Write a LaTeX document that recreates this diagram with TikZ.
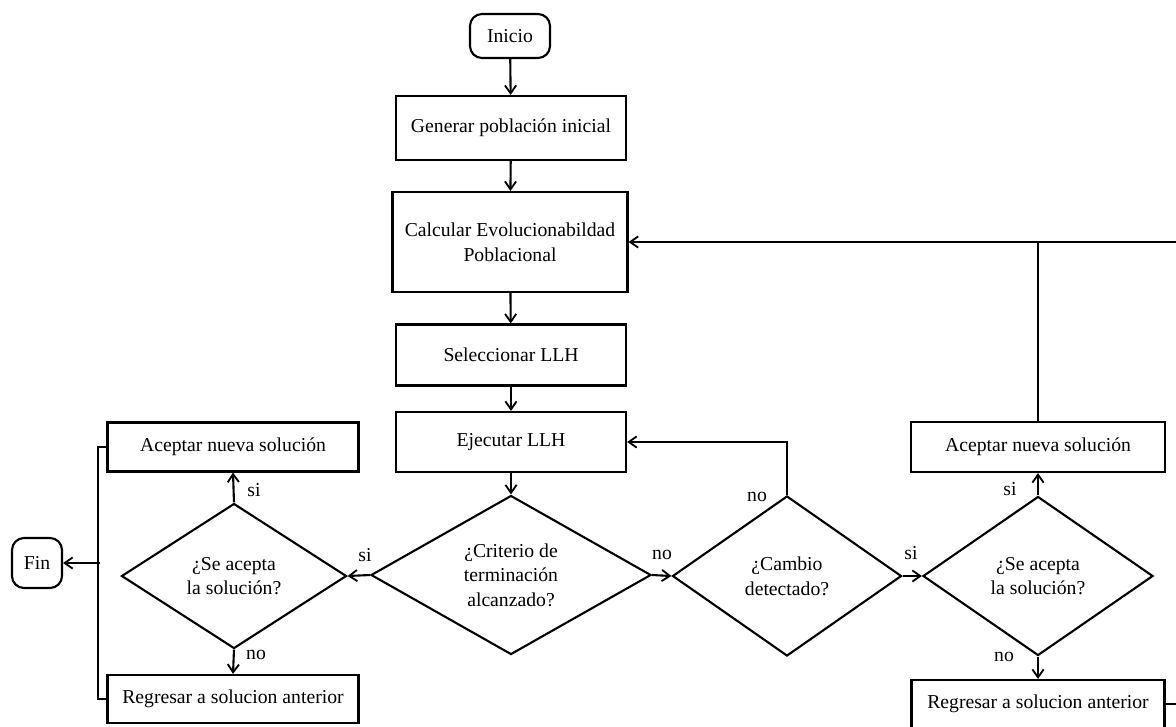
\documentclass[tikz,border=0pt]{standalone}
\usepackage{fontspec}
\setmainfont{Liberation Serif}
\usetikzlibrary{shapes.geometric}
\usetikzlibrary{arrows.meta}
\def\flowlinewidth{1.5pt}
\def\flowfontsize{\fontsize{14}{17.5}\selectfont}
\tikzset{
    flowbox/.style={draw,line width=\flowlinewidth,rectangle,align=center,inner sep=0pt,font=\flowfontsize},
    flowterm/.style={flowbox,rounded corners=0.3cm},
    flowdecision/.style={draw,line width=\flowlinewidth,diamond,align=center,inner sep=0pt,aspect=1.75,font=\flowfontsize},
    flowarrow/.style={line width=\flowlinewidth,-{Straight Barb[length=2mm,width=2.8mm,line width=1.3pt]}},
    flowline/.style={line width=\flowlinewidth},
    flowlabel/.style={font=\flowfontsize,inner sep=0pt}
}

\begin{document}
\begin{tikzpicture}[x=0.025cm,y=-0.025cm]
        \clip (0,0) rectangle (1176,726);
        % main column
        \node[flowterm,minimum width=2cm,minimum height=1.1cm] (inicio) at (510,36) {Inicio};
        \node[flowbox,minimum width=5.75cm,minimum height=1.6cm] (generar) at (511,128) {Generar población inicial};
        \node[flowbox,minimum width=5.875cm,minimum height=2.5cm] (calcular) at (510,242) {Calcular Evolucionabildad\\Poblacional};
        \node[flowbox,minimum width=5.75cm,minimum height=1.525cm] (seleccionar) at (511,355) {Seleccionar LLH};
        \node[flowbox,minimum width=5.75cm,minimum height=1.5cm] (ejecutar) at (511,442) {Ejecutar LLH};
        % decisions
        \node[flowdecision,minimum width=7cm,minimum height=3.975cm] (criterio) at (511,575) {¿Criterio de\\terminación\\alcanzado?};
        \node[flowdecision,minimum width=5.725cm,minimum height=4cm] (cambio) at (787,576) {¿Cambio\\detectado?};
        \node[flowdecision,minimum width=5.75cm,minimum height=3.975cm] (aceptaR) at (1038,576) {¿Se acepta\\la solución?};
        \node[flowdecision,minimum width=5.625cm,minimum height=3.625cm] (aceptaL) at (234,576) {¿Se acepta\\la solución?};
        % left branch
        \node[flowbox,minimum width=6.275cm,minimum height=1.225cm] (nuevaL) at (233,447) {Aceptar nueva solución};
        \node[flowbox,minimum width=6.275cm,minimum height=1.2cm] (regresarL) at (233,699) {Regresar a solucion anterior};
        \node[flowterm,minimum width=1.25cm,minimum height=1.25cm] (fin) at (37,563) {Fin};
        \coordinate (joinL) at (100,563);
        % right branch
        \node[flowbox,minimum width=6.35cm,minimum height=1.25cm] (nuevaR) at (1038,447) {Aceptar nueva solución};
        \node[flowbox,minimum width=6.325cm,minimum height=1.2cm] (regresarR) at (1038,704) {Regresar a solucion anterior};
        \coordinate (edgeT) at (1176,242);
        \coordinate (edgeB) at (1176,704);
        % connectors
        \draw[flowarrow] (inicio) -- (generar);
        \draw[flowarrow] (generar) -- (calcular);
        \draw[flowarrow] (calcular) -- (seleccionar);
        \draw[flowarrow] (seleccionar) -- (ejecutar);
        \draw[flowarrow] (ejecutar) -- (criterio);
        \draw[flowarrow] (criterio.west) -- (aceptaL.east);
        \draw[flowarrow] (criterio.east) -- (cambio.west);
        \draw[flowarrow] (cambio.east) -- (aceptaR.west);
        \draw[flowarrow] (cambio.north) |- (ejecutar.east);
        \draw[flowarrow] (aceptaL.north) -- (nuevaL.south);
        \draw[flowarrow] (aceptaL.south) -- (regresarL.north);
        \draw[flowarrow] (aceptaR.north) -- (nuevaR.south);
        \draw[flowarrow] (aceptaR.south) -- (regresarR.north);
        \draw[flowline] (nuevaL.west) -- ++(-8,0) |- (regresarL.west);
        \draw[flowarrow] (joinL) -- (fin.east);
        \draw[flowline] (regresarR.east) -- (edgeB);
        \draw[flowarrow] (edgeT) -- (calcular.east);
        \draw[flowline] (nuevaR.north) -- (nuevaR.north |- calcular.east);
        % labels
        \node[flowlabel] (lblSiCrit) at (365,555) {si};
        \node[flowlabel] (lblNoCrit) at (662,555) {no};
        \node[flowlabel] (lblNoCamb) at (757,497) {no};
        \node[flowlabel] (lblSiCamb) at (911,553) {si};
        \node[flowlabel] (lblSiL) at (254,490) {si};
        \node[flowlabel] (lblNoL) at (256,655) {no};
        \node[flowlabel] (lblSiR) at (1010,489) {si};
        \node[flowlabel] (lblNoR) at (1004,657) {no};
\end{tikzpicture}
\end{document}
